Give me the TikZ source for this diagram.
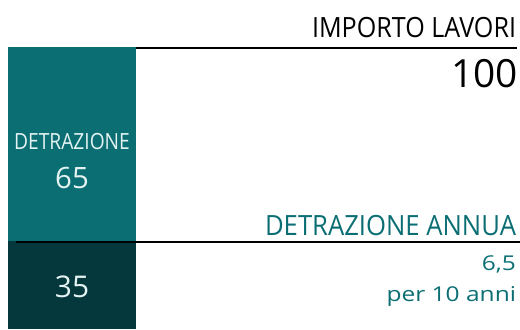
\documentclass[tikz,border=0pt]{standalone}
\usepackage{fontspec}
\setmainfont{Open Sans}
\definecolor{tealbox}{RGB}{11,110,115}
\definecolor{darkbox}{RGB}{4,56,61}
\definecolor{paletxt}{RGB}{228,242,242}
\newcommand{\hsc}[2]{\scalebox{#1}[1]{#2}}
\begin{document}
\begin{tikzpicture}[x=1bp,y=-1bp,
  boxcell/.style={draw=none,inner sep=0,outer sep=0,minimum width=128bp},
  lbl/.style={inner sep=0,outer sep=0},
  rule/.style={line width=2bp,black}]
\useasboundingbox (0,0) rectangle (520,329);
% boxes
\node[boxcell,fill=tealbox,minimum height=194bp] (detbox) at (72,144) {};
\node[boxcell,fill=darkbox,minimum height=88bp] (restbox) at (72,285) {};
% rules
\coordinate (topend) at (517,48);
\coordinate (midstart) at (16,241.5);
\coordinate (midend) at (520,241.5);
\draw[rule] (detbox.north east |- topend) -- (topend);
\draw[rule] (midstart) -- (midend);
% left texts
\node[lbl,anchor=base,text=paletxt,font=\fontsize{22.4}{22.4}\selectfont] (detl) at (72,149) {\hsc{0.86}{DETRAZIONE}};
\node[lbl,anchor=base,text=paletxt,font=\fontsize{29.5}{29.5}\selectfont] (v65) at (72,188) {65};
\node[lbl,anchor=base,text=paletxt,font=\fontsize{30}{30}\selectfont] (v35) at (72,297) {35};
% right texts
\node[lbl,anchor=base east,font=\fontsize{28}{28}\selectfont] (imp) at (516,37) {\hsc{0.9}{IMPORTO LAVORI}};
\node[lbl,anchor=base east,font=\fontsize{39}{39}\selectfont] (v100) at (518,87) {100};
\node[lbl,anchor=base east,text=tealbox,font=\fontsize{28}{28}\selectfont] (annua) at (516,235) {\hsc{0.92}{DETRAZIONE ANNUA}};
\node[lbl,anchor=base east,text=tealbox,font=\fontsize{20.5}{20.5}\selectfont] (v65a) at (516,270) {\hsc{1.2}{6,5}};
\node[lbl,anchor=base east,text=tealbox,font=\fontsize{20.5}{20.5}\selectfont] (anni) at (516,301) {\hsc{1.2}{per 10 anni}};
\end{tikzpicture}
\end{document}
